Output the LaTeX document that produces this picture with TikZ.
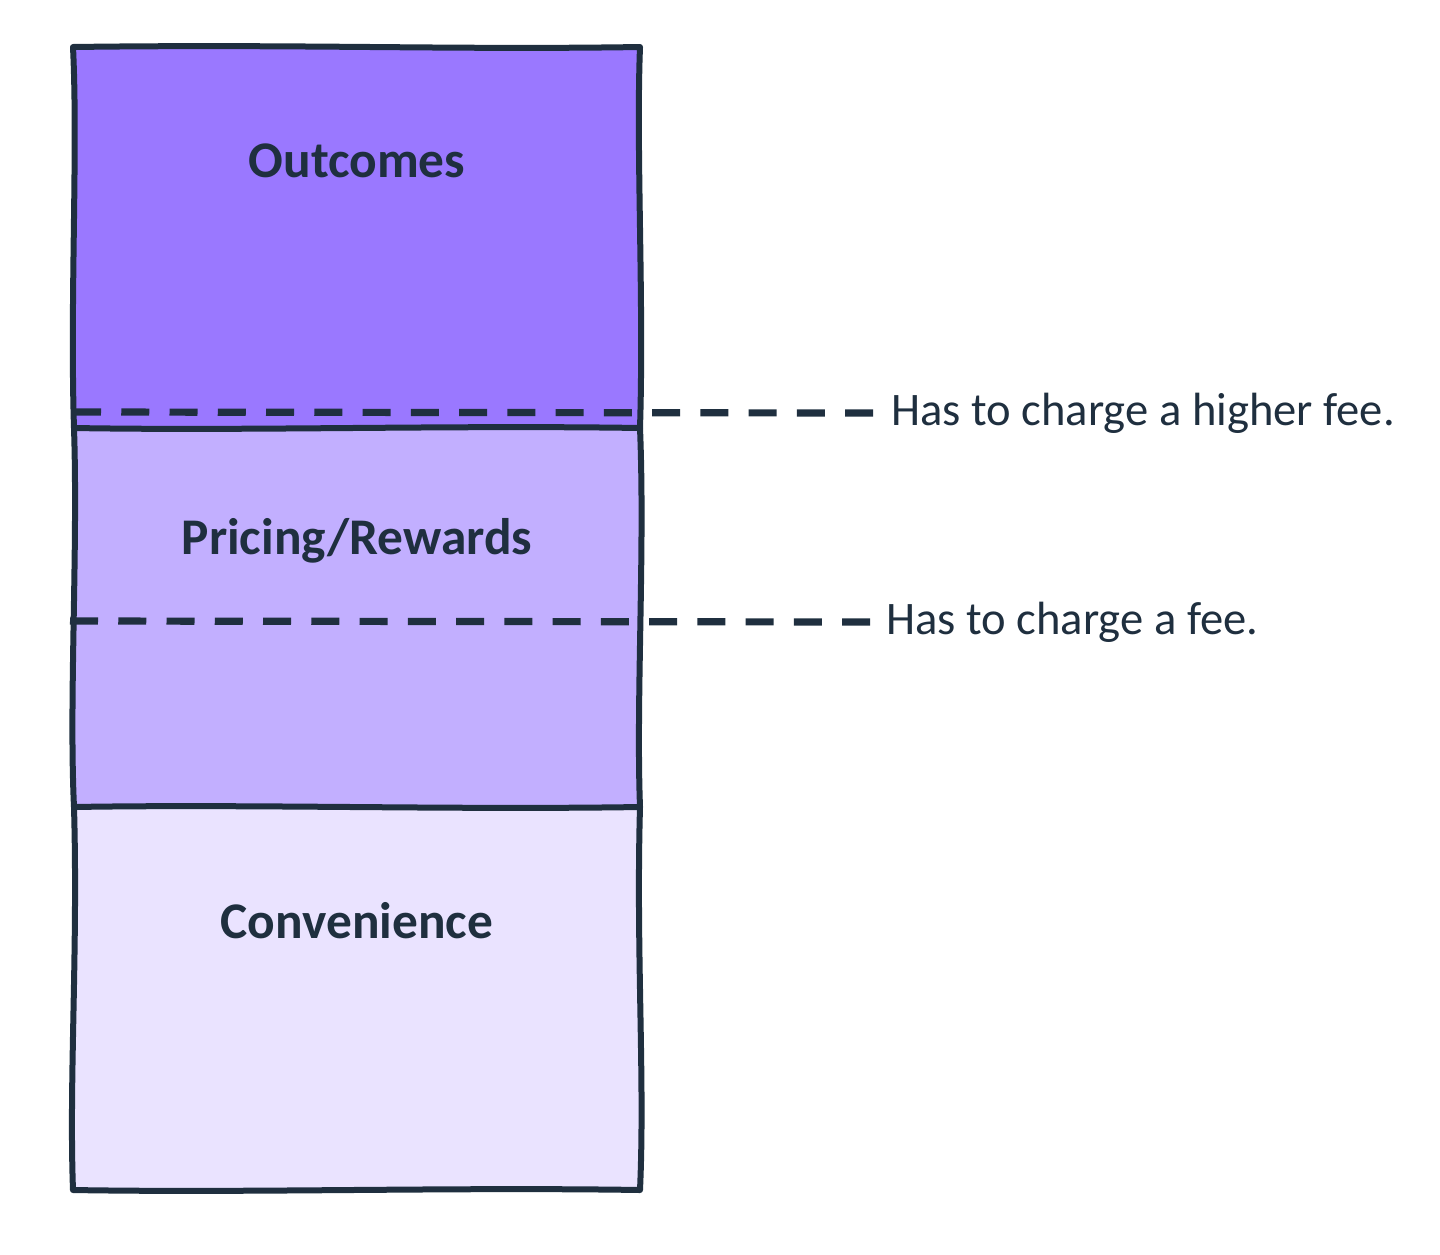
\documentclass[tikz,border=0pt]{standalone}
\usepackage{fontspec}
\setmainfont{Carlito}
\definecolor{ink}{HTML}{1F2F3F}
\definecolor{topc}{HTML}{9A78FF}
\definecolor{midc}{HTML}{C2AFFF}
\definecolor{botc}{HTML}{EAE3FF}
\tikzset{
  edge/.style={draw=ink, line width=3pt, line join=round, line cap=round},
  boxlabel/.style={font=\fontsize{25.7}{30}\selectfont\bfseries, text=ink, inner sep=0pt},
  sidelabel/.style={font=\fontsize{23.3}{28}\selectfont, text=ink, inner sep=0pt, anchor=west},
  dashline/.style={draw=ink, line width=3.6pt, dash pattern=on 14pt off 10.125pt}
}
\begin{document}
\begin{tikzpicture}[x=0.5pt,y=-0.5pt]
\useasboundingbox (0,0) rectangle (1440,1254);
% top box
\path[fill=topc] (73,47) .. controls (300,44) and (450,50) .. (640,47)
  .. controls (636,150) and (644,300) .. (640,428)
  .. controls (450,425) and (250,431) .. (74,428)
  .. controls (70,300) and (78,150) .. cycle;
% middle box
\path[fill=midc] (74,428) .. controls (250,431) and (450,425) .. (640,428)
  .. controls (636,550) and (645,700) .. (640,807)
  .. controls (450,810) and (250,804) .. (74,807)
  .. controls (69,700) and (78,550) .. cycle;
% bottom box
\path[fill=botc] (74,807) .. controls (250,804) and (450,810) .. (640,807)
  .. controls (636,950) and (645,1080) .. (640,1190)
  .. controls (450,1187) and (250,1193) .. (73,1190)
  .. controls (69,1080) and (78,950) .. cycle;
% outlines
\draw[edge] (73,47) .. controls (300,44) and (450,50) .. (640,47)
  .. controls (636,150) and (644,300) .. (640,428)
  .. controls (645,550) and (636,700) .. (640,807)
  .. controls (636,950) and (645,1080) .. (640,1190)
  .. controls (450,1187) and (250,1193) .. (73,1190)
  .. controls (69,1080) and (78,950) .. (74,807)
  .. controls (69,700) and (78,550) .. (74,428)
  .. controls (70,300) and (78,150) .. cycle;
\draw[edge] (74,428) .. controls (250,431) and (450,425) .. (640,428);
\draw[edge] (74,807) .. controls (250,804) and (450,810) .. (640,807);
% labels
\node[boxlabel] (outcomes) at (357,161) {Outcomes};
\node[boxlabel] (pricing) at (357,541) {Pricing/Rewards};
\node[boxlabel] (conv) at (357,921) {Convenience};
\node[sidelabel] (higher) at (891,413) {Has to charge a higher fee.};
\node[sidelabel] (fee) at (886,622) {Has to charge a fee.};
\coordinate (d1) at (73,412);
\coordinate (d2) at (70,621);
\draw[dashline] (d1) -- (higher.west -| 873,412);
\draw[dashline] (d2) -- (fee.west -| 870,621);
\end{tikzpicture}
\end{document}
